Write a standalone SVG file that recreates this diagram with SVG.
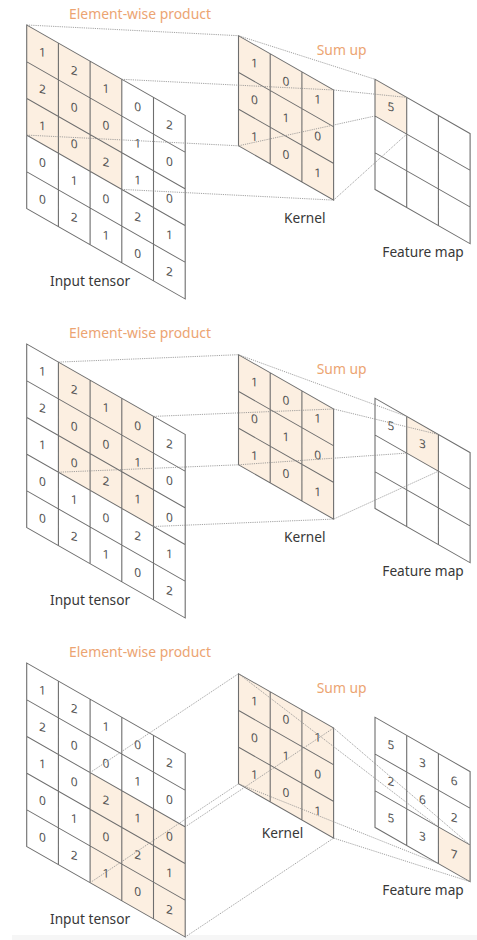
<svg xmlns="http://www.w3.org/2000/svg" xmlns:xlink="http://www.w3.org/1999/xlink" width="477" height="940" viewBox="0 0 477 940">
<style>
.bg{fill:#ffffff}
.hl{fill:#fcefe1}
.grid{fill:none;stroke:#6e6e6e;stroke-width:1.1}
.num{font-family:"Noto Sans","DejaVu Sans",sans-serif;font-size:12px;fill:#555555;text-anchor:middle}
.lbl{font-family:"Noto Sans","DejaVu Sans",sans-serif;font-size:13.7px;fill:#383838}
.org{font-family:"Noto Sans","DejaVu Sans",sans-serif;font-size:13.9px;fill:#eca472}
.con{fill:none;stroke:#8c8c8c;stroke-width:0.8;stroke-dasharray:1.2 1}
</style>
<defs>
<path id="g5" d="M0 0H158.5V183.5H0Z M31.7 0V183.5 M63.4 0V183.5 M95.1 0V183.5 M126.8 0V183.5 M0 36.7H158.5 M0 73.4H158.5 M0 110.1H158.5 M0 146.8H158.5"/>
<path id="g3" d="M0 0H95.1V110.1H0Z M31.7 0V110.1 M63.4 0V110.1 M0 36.7H95.1 M0 73.4H95.1"/>
<g id="inputNums">
<text x="15.85" y="27.74">1</text><text x="47.55" y="37.91">2</text><text x="79.25" y="48.09">1</text><text x="110.95" y="58.26">0</text><text x="142.65" y="68.44">2</text>
<text x="15.85" y="64.44">2</text><text x="47.55" y="74.61">0</text><text x="79.25" y="84.79">0</text><text x="110.95" y="94.96">1</text><text x="142.65" y="105.14">0</text>
<text x="15.85" y="101.14">1</text><text x="47.55" y="111.31">0</text><text x="79.25" y="121.49">2</text><text x="110.95" y="131.66">1</text><text x="142.65" y="141.84">0</text>
<text x="15.85" y="137.84">0</text><text x="47.55" y="148.01">1</text><text x="79.25" y="158.19">0</text><text x="110.95" y="168.36">2</text><text x="142.65" y="178.54">1</text>
<text x="15.85" y="174.54">0</text><text x="47.55" y="184.71">2</text><text x="79.25" y="194.89">1</text><text x="110.95" y="205.06">0</text><text x="142.65" y="215.24">2</text>
</g>
<g id="kernelNums">
<text x="15.85" y="27.74">1</text><text x="47.55" y="37.91">0</text><text x="79.25" y="48.09">1</text>
<text x="15.85" y="64.44">0</text><text x="47.55" y="74.61">1</text><text x="79.25" y="84.79">0</text>
<text x="15.85" y="101.14">1</text><text x="47.55" y="111.31">0</text><text x="79.25" y="121.49">1</text>
</g>
</defs>
<rect x="0" y="0" width="477" height="940" fill="#ffffff"/>
<rect x="12" y="935" width="465" height="5" fill="#f6f6f6"/>

<!-- Panel 1 -->
<g id="p1-labels">
<text class="org" x="140" y="18.5" text-anchor="middle">Element-wise product</text>
<text class="org" x="316.7" y="55">Sum up</text>
</g>
<g id="p1-input">
<g transform="matrix(1 0.571 0 1 26.7 25)">
<rect class="bg" width="158.5" height="183.5"/>
<rect class="hl" width="95.1" height="110.1"/>
<use xlink:href="#g5" class="grid"/>
</g>
<g transform="matrix(1 0.25 0 1 26.7 25)"><use xlink:href="#inputNums" class="num"/></g>
<text class="lbl" x="50" y="285.7">Input tensor</text>
</g>
<g id="p1-kernel">
<g transform="matrix(1 0.571 0 1 238.5 35.7)">
<rect class="hl" width="95.1" height="110.1"/>
<use xlink:href="#g3" class="grid"/>
</g>
<g transform="matrix(1 0.25 0 1 238.5 35.7)"><use xlink:href="#kernelNums" class="num"/></g>
<text class="lbl" x="284" y="223.3">Kernel</text>
</g>
<g id="p1-feature">
<g transform="matrix(1 0.571 0 1 375 79.3)">
<rect class="bg" width="95.1" height="110.1"/>
<rect class="hl" width="31.7" height="36.7"/>
<use xlink:href="#g3" class="grid"/>
</g>
<g transform="matrix(1 0.25 0 1 375 79.3)" class="num"><text x="15.85" y="27.74">5</text></g>
<text class="lbl" x="382.3" y="256.7">Feature map</text>
</g>
<g id="p1-connectors" class="con">
<path d="M26.7 25L238.5 35.7 M121.8 79.3L333.6 90 M26.7 135.1L238.5 145.8 M121.8 189.4L333.6 200.1"/>
<path d="M238.5 35.7L375 79.3 M333.6 90L406.7 97.4 M238.5 145.8L375 116 M333.6 200.1L406.7 134.1"/>
</g>

<!-- Panel 2 -->
<g id="p2-labels">
<text class="org" x="140" y="337.5" text-anchor="middle">Element-wise product</text>
<text class="org" x="316.7" y="374">Sum up</text>
</g>
<g id="p2-input">
<g transform="matrix(1 0.571 0 1 26.7 344)">
<rect class="bg" width="158.5" height="183.5"/>
<rect class="hl" x="31.7" width="95.1" height="110.1"/>
<use xlink:href="#g5" class="grid"/>
</g>
<g transform="matrix(1 0.25 0 1 26.7 344)"><use xlink:href="#inputNums" class="num"/></g>
<text class="lbl" x="50" y="604.7">Input tensor</text>
</g>
<g id="p2-kernel">
<g transform="matrix(1 0.571 0 1 238.5 354.7)">
<rect class="hl" width="95.1" height="110.1"/>
<use xlink:href="#g3" class="grid"/>
</g>
<g transform="matrix(1 0.25 0 1 238.5 354.7)"><use xlink:href="#kernelNums" class="num"/></g>
<text class="lbl" x="284" y="542.3">Kernel</text>
</g>
<g id="p2-feature">
<g transform="matrix(1 0.571 0 1 375 398.3)">
<rect class="bg" width="95.1" height="110.1"/>
<rect class="hl" x="31.7" width="31.7" height="36.7"/>
<use xlink:href="#g3" class="grid"/>
</g>
<g transform="matrix(1 0.25 0 1 375 398.3)" class="num"><text x="15.85" y="27.74">5</text><text x="47.55" y="37.91">3</text></g>
<text class="lbl" x="382.3" y="575.7">Feature map</text>
</g>
<g id="p2-connectors" class="con">
<path d="M58.4 362.1L238.5 354.7 M153.5 416.4L333.6 409 M58.4 472.2L238.5 464.8 M153.5 526.5L333.6 519.1"/>
<path d="M238.5 354.7L406.7 416.4 M333.6 409L438.4 434.5 M238.5 464.8L406.7 453.1 M333.6 519.1L438.4 471.2"/>
</g>

<!-- Panel 3 -->
<g id="p3-labels">
<text class="org" x="140" y="656.5" text-anchor="middle">Element-wise product</text>
<text class="org" x="316.7" y="693">Sum up</text>
</g>
<g id="p3-input">
<g transform="matrix(1 0.571 0 1 26.7 663)">
<rect class="bg" width="158.5" height="183.5"/>
<rect class="hl" x="63.4" y="73.4" width="95.1" height="110.1"/>
<use xlink:href="#g5" class="grid"/>
</g>
<g transform="matrix(1 0.25 0 1 26.7 663)"><use xlink:href="#inputNums" class="num"/></g>
<text class="lbl" x="50" y="923.7">Input tensor</text>
</g>
<g id="p3-kernel">
<g transform="matrix(1 0.571 0 1 238.5 673.7)">
<rect class="hl" width="95.1" height="110.1"/>
<use xlink:href="#g3" class="grid"/>
</g>
<g transform="matrix(1 0.25 0 1 238.5 673.7)"><use xlink:href="#kernelNums" class="num"/></g>
<text class="lbl" x="261.7" y="838.3">Kernel</text>
</g>
<g id="p3-feature">
<g transform="matrix(1 0.571 0 1 375 717.3)">
<rect class="bg" width="95.1" height="110.1"/>
<rect class="hl" x="63.4" y="73.4" width="31.7" height="36.7"/>
<use xlink:href="#g3" class="grid"/>
</g>
<g transform="matrix(1 0.25 0 1 375 717.3)" class="num">
<text x="15.85" y="27.74">5</text><text x="47.55" y="37.91">3</text><text x="79.25" y="48.09">6</text>
<text x="15.85" y="64.44">2</text><text x="47.55" y="74.61">6</text><text x="79.25" y="84.79">2</text>
<text x="15.85" y="101.14">5</text><text x="47.55" y="111.31">3</text><text x="79.25" y="121.49">7</text>
</g>
<text class="lbl" x="382.3" y="894.7">Feature map</text>
</g>
<g id="p3-connectors" class="con">
<path d="M90.1 772.6L238.5 673.7 M185.2 826.9L333.6 728 M90.1 882.7L238.5 783.8 M185.2 937L333.6 838.1"/>
<path d="M238.5 673.7L438.4 826.9 M333.6 728L470.1 845 M238.5 783.8L438.4 863.6 M333.6 838.1L470.1 881.7"/>
</g>
</svg>
